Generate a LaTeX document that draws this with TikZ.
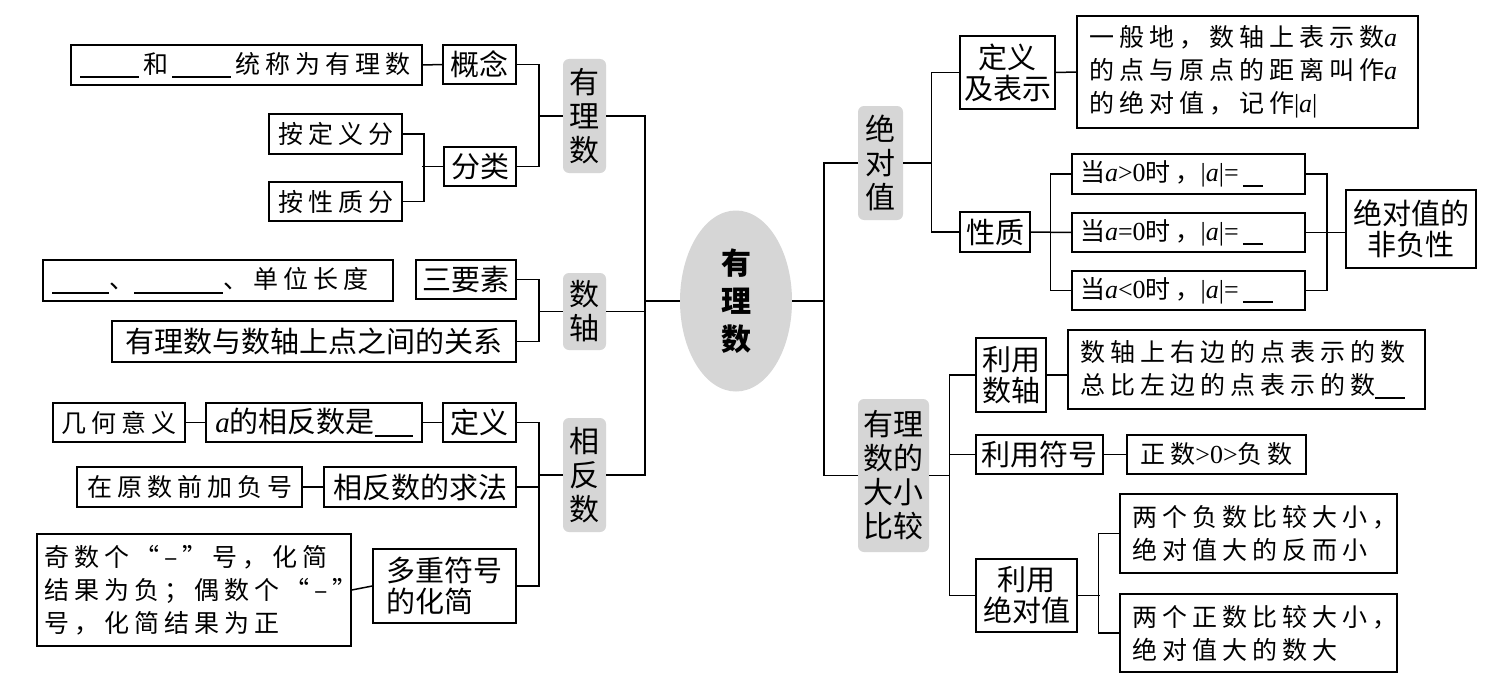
\documentclass[tikz,border=0pt]{standalone}
\usepackage{fontspec}
\setmainfont{Liberation Serif}
\newfontfamily\cjk{Noto Sans CJK SC}
\newfontfamily\cjksp[LetterSpace=20]{Noto Sans CJK SC}
\newfontfamily\tms{Liberation Serif}
\usetikzlibrary{shapes.geometric}
\definecolor{lgray}{HTML}{D6D6D6}
\newcommand\labf{\cjk\fontsize{29}{31}\selectfont}
\newcommand\sptxt{\cjksp\fontsize{25}{33}\selectfont}
\newcommand\glf{\cjk\fontsize{30}{34}\selectfont}
\newcommand\cenf{\cjk\bfseries\fontsize{30}{38}\selectfont}
\newcommand\ia{{\tms\itshape a}}
\newcommand\tm[1]{{\tms\fontsize{26}{30}\selectfont #1}}
\newcommand\blank[1]{\rule[-5pt]{#1}{1.8pt}}
\tikzset{
  box/.style={draw, line width=1.5pt, inner sep=0pt, font=\labf},
  tbox/.style={draw, line width=1.5pt, inner sep=0pt, font=\sptxt, align=left},
  lbl/.style={fill=lgray, rounded corners=6pt, inner sep=0pt, align=center, font=\glf},
  conn/.style={line width=1.5pt}
}
\begin{document}
\begin{tikzpicture}[x=1pt,y=-1pt]
\useasboundingbox[fill=white] (0,0) rectangle (1511,685);
% centre
\node[ellipse, fill=lgray, minimum width=112pt, minimum height=181pt, inner sep=0pt, font=\cenf, align=center] (c) at (736,301) {有\\理\\数};
% ---------- left: 有理数
\node[tbox, text width=333pt, inner xsep=9pt, minimum height=40pt] (gn) at (246.5,65) {\blank{59pt}\,和\,\blank{59pt}\,统称为有理数};
\node[box, minimum width=73pt, minimum height=39pt] (gainian) at (479.5,64.5) {概念};
\node[lbl, minimum width=43pt, minimum height=114pt] (L1) at (584.5,116) {有\\理\\数};
\node[tbox, align=center, minimum width=133pt, minimum height=40pt] (dyf) at (335.5,134) {按定义分};
\node[tbox, align=center, minimum width=133pt, minimum height=39pt] (xzf) at (335.5,201.5) {按性质分};
\node[box, minimum width=72pt, minimum height=39pt] (fl) at (480,166.5) {分类};
% ---------- left: 数轴
\node[tbox, text width=332pt, inner xsep=9pt, minimum height=41pt] (sys) at (218,280.5) {\blank{57pt}、\blank{89pt}、单位长度};
\node[box, minimum width=100pt, minimum height=39pt] (sys3) at (466,279.5) {三要素};
\node[lbl, minimum width=43pt, minimum height=77pt] (L2) at (584.5,311.5) {数\\轴};
\node[box, minimum width=404pt, minimum height=41pt] (rel) at (314,341.5) {有理数与数轴上点之间的关系};
% ---------- left: 相反数
\node[tbox, align=center, minimum width=132pt, minimum height=39pt] (jh) at (119,422.5) {几何意义};
\node[box, minimum width=216pt, minimum height=39pt] (xfs) at (314,422.5) {\ia 的相反数是\blank{38pt}};
\node[box, minimum width=73pt, minimum height=39pt] (dyi) at (479.5,422.5) {定义};
\node[lbl, minimum width=43pt, minimum height=114pt] (L3) at (584.5,475) {相\\反\\数};
\node[tbox, align=center, minimum width=225pt, minimum height=40pt] (yq) at (189.5,487) {在原数前加负号};
\node[box, minimum width=192pt, minimum height=40pt] (qf) at (420,487) {相反数的求法};
\node[tbox, text width=300pt, inner xsep=7pt, minimum height=112pt] (jq) at (194,590) {\mbox{奇数个“–”号，化简}\\\mbox{结果为负；偶数个“–”}\\\mbox{号，化简结果为正}};
\node[box, align=left, minimum width=143pt, minimum height=74pt] (dc) at (444.5,586) {多重符号\\的化简};
% ---------- right: 绝对值
\node[lbl, minimum width=45pt, minimum height=114pt] (R1) at (880.5,163) {绝\\对\\值};
\node[box, align=center, minimum width=95pt, minimum height=73pt] (dyb) at (1007.5,72.5) {定义\\及表示};
\node[tbox, text width=317pt, inner xsep=12pt, minimum height=112pt] (dyt) at (1247.5,72) {一般地，数轴上表示数\tm{\itshape a}\\的点与原点的距离叫作\tm{\itshape a}\\的绝对值，记作\tm{|\itshape a\upshape|}};
\node[box, minimum width=70pt, minimum height=40pt] (xzb) at (995,232) {性质};
\node[tbox, text width=217pt, inner xsep=8pt, minimum height=40pt] (c1) at (1188.5,174) {当\tm{\itshape a\upshape{}>0}时，\tm{|\itshape a\upshape|=}\,\blank{20pt}};
\node[tbox, text width=217pt, inner xsep=8pt, minimum height=39pt] (c2) at (1188.5,232.5) {当\tm{\itshape a\upshape{}=0}时，\tm{|\itshape a\upshape|=}\,\blank{20pt}};
\node[tbox, text width=217pt, inner xsep=8pt, minimum height=39pt] (c3) at (1188.5,290.5) {当\tm{\itshape a\upshape{}<0}时，\tm{|\itshape a\upshape|=}\,\blank{30pt}};
\node[box, align=center, minimum width=130pt, minimum height=78pt] (fn) at (1411,229) {绝对值的\\非负性};
% ---------- right: 大小比较
\node[lbl, minimum width=71pt, minimum height=153pt] (R2) at (893.5,475.5) {有理\\数的\\大小\\比较};
\node[box, align=center, minimum width=70pt, minimum height=74pt] (lysz) at (1011,375) {利用\\数轴};
\node[tbox, text width=333pt, inner xsep=12pt, minimum height=79pt] (szt) at (1246.5,369.5) {数轴上右边的点表示的数\\总比左边的点表示的数\blank{30pt}};
\node[box, minimum width=127pt, minimum height=39pt] (lyfh) at (1039.5,454.5) {利用符号};
\node[tbox, align=center, minimum width=179pt, minimum height=39pt] (zs) at (1216.5,454.5) {正数\tm{>0>}负数};
\node[box, align=center, minimum width=101pt, minimum height=73pt] (lyjd) at (1026.5,595.5) {利用\\绝对值};
\node[tbox, text width=253pt, inner xsep=12pt, minimum height=79pt] (f1) at (1258.5,533.5) {两个负数比较大小，\\绝对值大的反而小};
\node[tbox, text width=253pt, inner xsep=12pt, minimum height=78pt] (f2) at (1258.5,633) {两个正数比较大小，\\绝对值大的数大};
% ---------- connectors
\begin{scope}[conn]
\draw (L1.east) -- ++(39,0) |- (L3.east);
\draw (L2.east) -- ++(39,0);
\draw (c.west) -- ++(-35,0);
\draw (c.east) -- ++(32,0);
\draw (R1.west) -- ++(-34,0) |- (R2.west);
\draw (gn.east) -- (gainian.west);
\draw (gainian.east) -- ++(22,0) |- (fl.east);
\draw (L1.west) -- ++(-25,0);
\draw (dyf.east) -- ++(21,0) |- (xzf.east);
\draw (fl.west) -- ++(-21,0);
\draw (sys3.east) -- ++(22,0) |- (rel.east);
\draw (L2.west) -- ++(-25,0);
\draw (jh.east) -- (xfs.west);
\draw (xfs.east) -- (dyi.west);
\draw (yq.east) -- (qf.west);
\draw (jq.east) -- (dc.west);
\draw (dyi.east) -- ++(22,0) |- (dc.east);
\draw (qf.east) -- ++(22,0);
\draw (L3.west) -- ++(-25,0);
\draw (R1.east) -- ++(29,0);
\draw (dyb.west) -- ++(-28,0) |- (xzb.west);
\draw (dyb.east) -- (dyt.west);
\draw (xzb.east) -- (c2.west);
\draw (c1.west) -- ++(-21,0) |- (c3.west);
\draw (c1.east) -- ++(21,0) |- (c3.east);
\draw (c2.east) -- (c2.east -| fn.west);
\draw (R2.east) -- ++(21,0);
\draw (lysz.west) -- ++(-26,0) |- (lyjd.west);
\draw (lyfh.west) -- ++(-26,0);
\draw (lysz.east) -- (lysz.east -| szt.west);
\draw (lyfh.east) -- (zs.west);
\draw (lyjd.east) -- ++(22,0);
\draw (f1.west) -- ++(-21,0) |- (f2.west);
\end{scope}
\end{tikzpicture}
\end{document}
